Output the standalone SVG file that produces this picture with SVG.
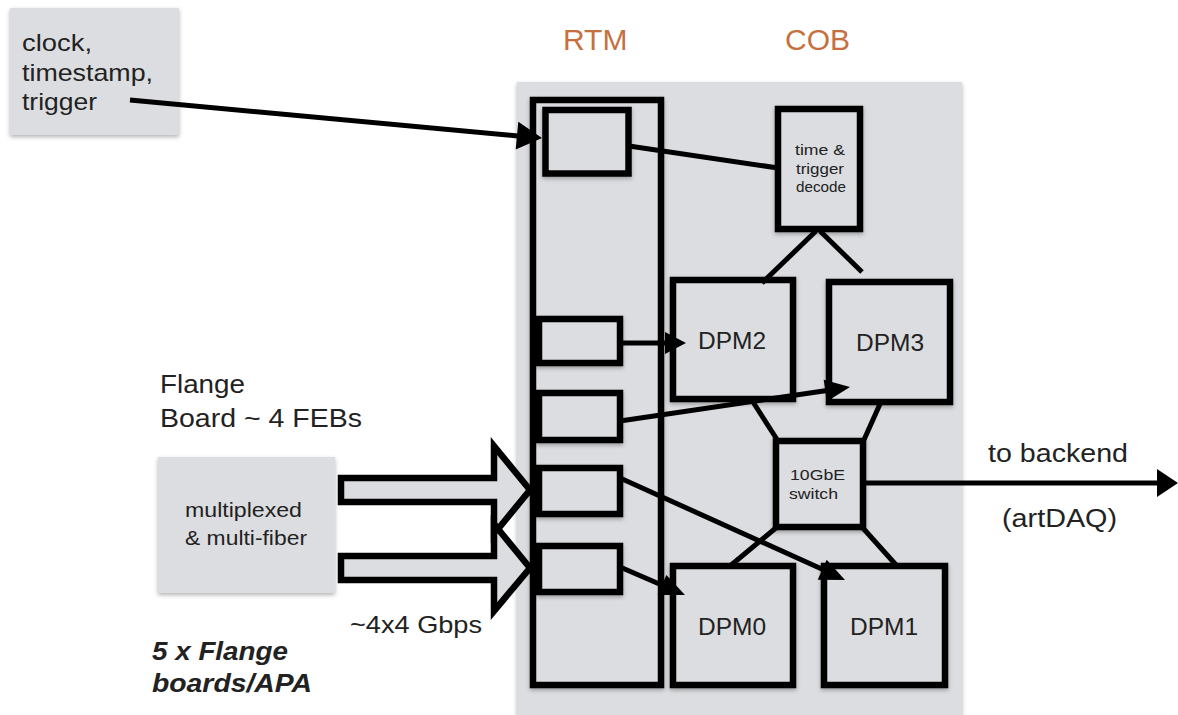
<svg xmlns="http://www.w3.org/2000/svg" width="1178" height="715" viewBox="0 0 1178 715">
<style>
text{font-family:"Liberation Sans",Arial,sans-serif;fill:#222}
.box{fill:#dcdde0;stroke:#000;stroke-width:6.5}
.plain{fill:#dcdde0}
.ln{stroke:#000;stroke-width:5;fill:none}
.hd{fill:#000}
.org{fill:#c6703f;font-size:30px}
.dpm{font-size:24.5px}
.sm{font-size:15px}
</style>
<defs>
<filter id="sh" x="-10%" y="-10%" width="130%" height="130%">
<feDropShadow dx="0" dy="2" stdDeviation="2" flood-color="#000" flood-opacity="0.3"/>
</filter>
</defs>
<rect width="1178" height="715" fill="#fff"/>
<g id="cob-bg"><rect class="plain" x="517" y="82" width="445" height="640" filter="url(#sh)"/></g>
<text class="org" x="563" y="50">RTM</text>
<text class="org" x="785" y="50">COB</text>
<g id="clock"><rect class="plain" x="10" y="8" width="169" height="127" filter="url(#sh)"/>
<text font-size="24" x="22" y="51" textLength="70" lengthAdjust="spacingAndGlyphs">clock,</text>
<text font-size="24" x="22" y="81" textLength="131" lengthAdjust="spacingAndGlyphs">timestamp,</text>
<text font-size="24" x="22" y="110" textLength="75" lengthAdjust="spacingAndGlyphs">trigger</text></g>
<g id="flange"><rect class="plain" x="158" y="457" width="177" height="136" filter="url(#sh)"/>
<text font-size="20.5" x="185" y="517" textLength="117" lengthAdjust="spacingAndGlyphs">multiplexed</text>
<text font-size="20.5" x="185" y="545" textLength="122" lengthAdjust="spacingAndGlyphs">&amp; multi-fiber</text></g>
<text font-size="25" x="160" y="393" textLength="85" lengthAdjust="spacingAndGlyphs">Flange</text>
<text font-size="25" x="160" y="427" textLength="202" lengthAdjust="spacingAndGlyphs">Board ~ 4 FEBs</text>
<text font-size="24" x="350" y="633" textLength="132" lengthAdjust="spacingAndGlyphs">~4x4 Gbps</text>
<text font-size="26" x="152" y="660" font-weight="bold" font-style="italic" textLength="136" lengthAdjust="spacingAndGlyphs">5 x Flange</text>
<text font-size="26" x="152" y="692" font-weight="bold" font-style="italic" textLength="160" lengthAdjust="spacingAndGlyphs">boards/APA</text>
<text font-size="26" x="988" y="462" textLength="140" lengthAdjust="spacingAndGlyphs">to backend</text>
<text font-size="26" x="1002" y="527" textLength="115" lengthAdjust="spacingAndGlyphs">(artDAQ)</text>
<g id="rtm"><rect class="box" x="533" y="100" width="128" height="585" filter="url(#sh)"/></g>
<g id="rtm-in0"><rect class="box" x="545.5" y="110" width="83" height="63.5" filter="url(#sh)"/></g>
<g id="rtm-in1"><rect class="box" x="539" y="319" width="81" height="44" filter="url(#sh)"/></g>
<g id="rtm-in2"><rect class="box" x="539" y="393" width="81" height="47" filter="url(#sh)"/></g>
<g id="rtm-in3"><rect class="box" x="539" y="468" width="81" height="46" filter="url(#sh)"/></g>
<g id="rtm-in4"><rect class="box" x="539" y="546" width="81" height="46" filter="url(#sh)"/></g>
<g id="decode"><rect class="box" x="778" y="109" width="82" height="120" filter="url(#sh)"/>
<text class="sm" x="795" y="155" textLength="50" lengthAdjust="spacingAndGlyphs">time &amp;</text>
<text class="sm" x="796" y="174" textLength="48" lengthAdjust="spacingAndGlyphs">trigger</text>
<text class="sm" x="796" y="192" textLength="50" lengthAdjust="spacingAndGlyphs">decode</text></g>
<g id="dpm2"><rect class="box" x="673" y="280" width="120" height="119" filter="url(#sh)"/><text class="dpm" x="732" y="349" text-anchor="middle">DPM2</text></g>
<g id="dpm3"><rect class="box" x="829" y="282" width="121" height="120" filter="url(#sh)"/><text class="dpm" x="890" y="351" text-anchor="middle">DPM3</text></g>
<g id="switch"><rect class="box" x="776" y="441" width="87" height="86" filter="url(#sh)"/>
<text class="sm" x="790" y="480" textLength="55" lengthAdjust="spacingAndGlyphs">10GbE</text>
<text class="sm" x="789" y="499" textLength="49" lengthAdjust="spacingAndGlyphs">switch</text></g>
<g id="dpm0"><rect class="box" x="673" y="566" width="120" height="119" filter="url(#sh)"/><text class="dpm" x="732" y="635" text-anchor="middle">DPM0</text></g>
<g id="dpm1"><rect class="box" x="824" y="566" width="121" height="119" filter="url(#sh)"/><text class="dpm" x="884" y="635" text-anchor="middle">DPM1</text></g>
<g id="connectors">
<line class="ln" x1="130" y1="100" x2="518" y2="136"/><polygon class="hd" points="542,138 515.7,149.6 518.3,121.8"/>
<line class="ln" x1="629" y1="146" x2="778" y2="168"/>
<line class="ln" x1="816" y1="231" x2="762" y2="283"/>
<line class="ln" x1="820" y1="231" x2="862" y2="272"/>
<line class="ln" x1="620" y1="343" x2="667" y2="343"/><polygon class="hd" points="686,343 665,332 665,354"/>
<line class="ln" x1="620" y1="421" x2="827" y2="390.5"/><polygon class="hd" points="850,387 826.8,401.5 823.7,379.7"/>
<line class="ln" x1="620" y1="478" x2="824" y2="570"/><polygon class="hd" points="845,580 817.7,579.7 826.7,559.7"/>
<line class="ln" x1="620" y1="567" x2="664" y2="586"/><polygon class="hd" points="685,595 657.6,595.1 666.4,574.9"/>
<line class="ln" x1="753" y1="402" x2="778" y2="441"/>
<line class="ln" x1="880" y1="404" x2="863" y2="442"/>
<line class="ln" x1="777" y1="527" x2="730" y2="566"/>
<line class="ln" x1="862" y1="527" x2="897" y2="566"/>
<line class="ln" x1="863" y1="483" x2="1160" y2="483"/><polygon class="hd" points="1178,483 1157,469 1157,497"/>
<polygon class="box" points="341,478 494,478 494,446 530,490 494,534 494,502 341,502"/>
<polygon class="box" points="341,556 494,556 494,524 530,568 494,611 494,580 341,580"/>
<polyline class="ln" stroke-width="6.5" points="494,446 530,490 494,534"/>
</g>
</svg>
